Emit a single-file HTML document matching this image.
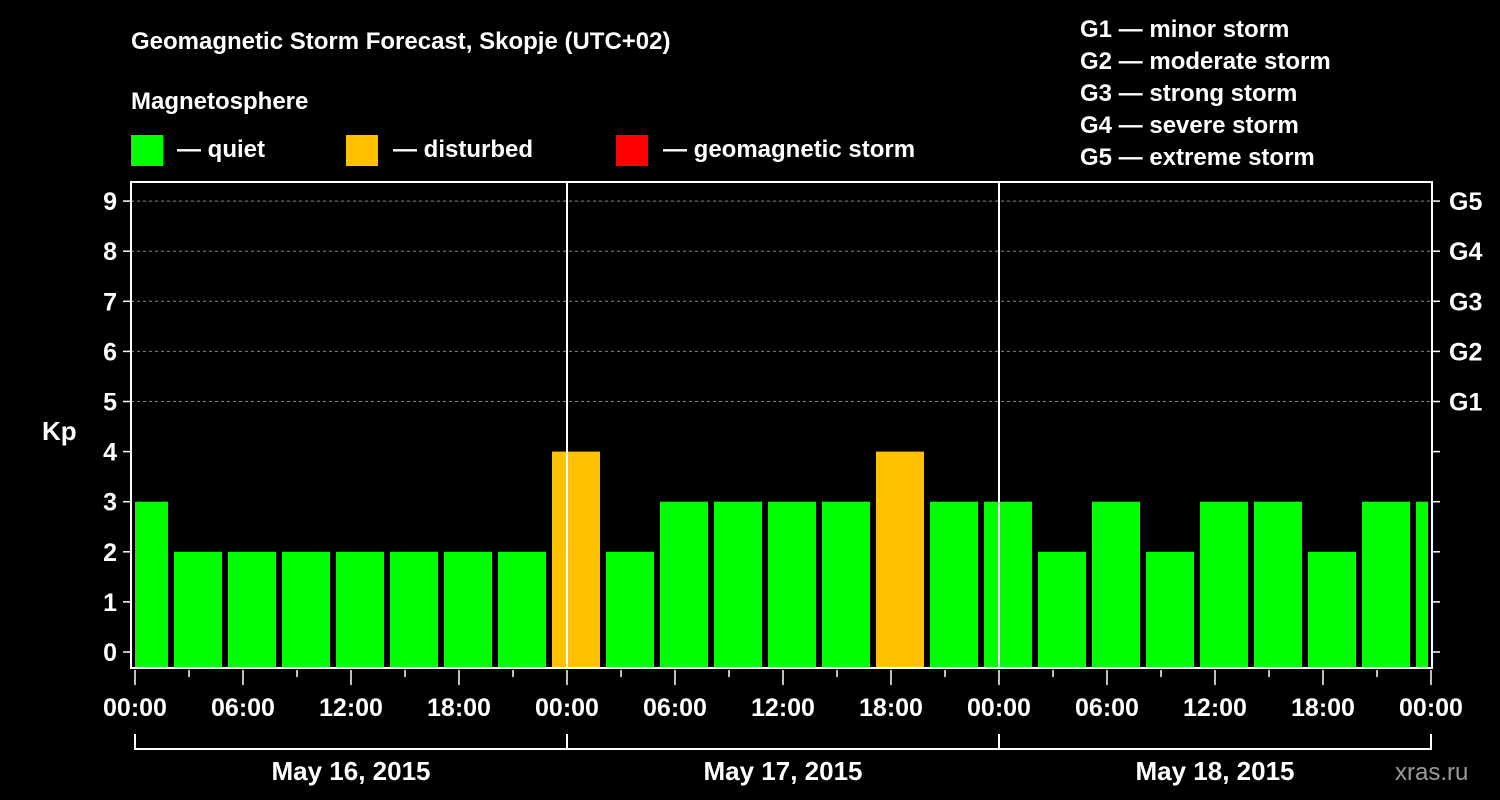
<!DOCTYPE html>
<html><head><meta charset="utf-8"><style>
body{margin:0;background:#000;width:1500px;height:800px;overflow:hidden}
svg{display:block}
text{font-family:"Liberation Sans",sans-serif;font-weight:bold;fill:#fff}
</style></head><body>
<svg id="c" width="1500" height="800">
<text x="131" y="49" font-size="24">Geomagnetic Storm Forecast, Skopje (UTC+02)</text>
<text x="131" y="109" font-size="24">Magnetosphere</text>
<rect x="131" y="135" width="32" height="31" fill="#00ff00"/>
<text x="177" y="157" font-size="24">— quiet</text>
<rect x="346" y="135" width="32" height="31" fill="#ffc000"/>
<text x="393" y="157" font-size="24">— disturbed</text>
<rect x="616" y="135" width="32" height="31" fill="#ff0000"/>
<text x="663" y="157" font-size="24">— geomagnetic storm</text>
<g font-size="24">
<text x="1080" y="37">G1 — minor storm</text>
<text x="1080" y="69">G2 — moderate storm</text>
<text x="1080" y="101">G3 — strong storm</text>
<text x="1080" y="133">G4 — severe storm</text>
<text x="1080" y="165">G5 — extreme storm</text>
</g>
<text x="42" y="440" font-size="26">Kp</text>
<text x="1395" y="780" font-size="24" fill="#888" style="fill:#9a9a9a;font-weight:normal">xras.ru</text>
<g id="plot"></g>
</svg>
<script>
const values=[3,2,2,2,2,2,2,2,4,2,3,3,3,3,4,3,3,2,3,2,3,3,2,3,3];
const yTicks=[0,1,2,3,4,5,6,7,8,9];
const gLabels=["G1","G2","G3","G4","G5"];
const xLabels=["00:00","06:00","12:00","18:00","00:00","06:00","12:00","18:00","00:00","06:00","12:00","18:00","00:00"];
const days=["May 16, 2015","May 17, 2015","May 18, 2015"];
const X0=135,PXH=18,L=131,R=1432,T=182,B=668;
const x=h=>X0+h*PXH;
const y=v=>652-v*50.1;
const NS="http://www.w3.org/2000/svg";
const g=document.getElementById('plot');
function mk(t,a){const e=document.createElementNS(NS,t);for(const k in a)e.setAttribute(k,a[k]);g.appendChild(e);return e;}
// grid
for(let v=5;v<=9;v++){const e=mk('line',{x1:L,x2:R,y1:y(v),y2:y(v),stroke:'#888','stroke-dasharray':'3,3','stroke-width':1});

}
// bars
values.forEach((v,i)=>{const h0=(i-1)*3+2+1/6;let x1=x(h0),x2=x(h0+8/3);x1=Math.max(x1,X0);x2=Math.min(x2,R-4);
const e=mk('rect',{x:x1,y:y(v),width:x2-x1,height:B-1-y(v),fill:v>=5?'#ff0000':(v>=4?'#ffc000':'#00ff00')});

});
// day separators
[24,48].forEach(h=>{const e=mk('line',{x1:x(h),x2:x(h),y1:T,y2:B,stroke:'#fff','stroke-width':2});

});
// frame
const f=mk('rect',{x:L,y:T,width:R-L,height:B-T,fill:'none',stroke:'#fff','stroke-width':2});


// y ticks
yTicks.forEach(v=>{mk('line',{x1:L-8,x2:L,y1:y(v),y2:y(v),stroke:'#fff','stroke-width':1.5});
mk('line',{x1:R,x2:R+8,y1:y(v),y2:y(v),stroke:'#fff','stroke-width':1.5});
const t=mk('text',{x:L-14,y:y(v)+9,'text-anchor':'end','font-size':25});t.textContent=v;

});
gLabels.forEach((s,i)=>{const t=mk('text',{x:R+17,y:y(5+i)+9,'font-size':25});t.textContent=s;

});
// x ticks
for(let h=0;h<=72;h+=3){const maj=h%6==0;mk('line',{x1:x(h),x2:x(h),y1:B+2,y2:B+(maj?17:9),stroke:'#fff','stroke-width':1.5});}
xLabels.forEach((s,i)=>{const t=mk('text',{x:x(i*6),y:716,'text-anchor':'middle','font-size':25});t.textContent=s;

});
days.forEach((s,i)=>{const a=x(i*24),b=x(i*24+24);
mk('path',{d:`M${a},734V749H${b}V734`,fill:'none',stroke:'#fff','stroke-width':2});
const t=mk('text',{x:(a+b)/2,y:780,'text-anchor':'middle','font-size':26});t.textContent=s;

});
</script>
</body></html>
